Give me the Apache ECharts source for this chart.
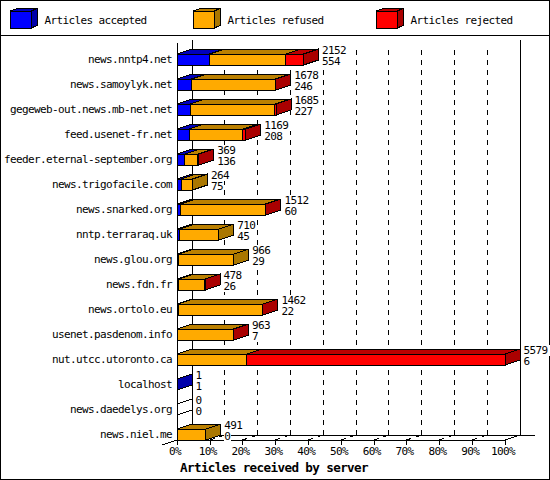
<!DOCTYPE html>
<html>
<head>
<meta charset="utf-8">
<style>
html,body{margin:0;padding:0;background:#fff}
#c{width:550px;height:480px}
svg *{shape-rendering:crispEdges}
svg text{letter-spacing:-0.62px}
</style>
<script src="https://cdn.jsdelivr.net/npm/echarts@6/dist/echarts.min.js"></script>
</head>
<body>
<div id="c"></div>
<script>
const categories = ['news.nntp4.net','news.samoylyk.net','gegeweb-out.news.mb-net.net','feed.usenet-fr.net','feeder.eternal-september.org','news.trigofacile.com','news.snarked.org','nntp.terraraq.uk','news.glou.org','news.fdn.fr','news.ortolo.eu','usenet.pasdenom.info','nut.utcc.utoronto.ca','localhost','news.daedelys.org','news.niel.me'];
const totals   = [2152,1678,1685,1169,369,264,1512,710,966,478,1462,963,5579,1,0,491];
const accepted = [554,246,227,208,136,75,60,45,29,26,22,7,6,1,0,0];
const refused  = [1298,1422,1438,911,218,189,1447,665,937,447,1435,951,1180,0,0,491];
const rejected = [300,10,20,50,15,0,5,0,0,5,5,5,4393,0,0,0];
const seriesNames = ['Articles accepted','Articles refused','Articles rejected'];
const tickValues = [0,10,20,30,40,50,60,70,80,90,100];
const axisTitle = 'Articles received by server';
const maxTotal = 5579;

const FAMILY = 'DejaVu Sans Mono';
const FONT = '11px "DejaVu Sans Mono"';
const DX = 15, DY = 5, HALF = 5.5;
const front = ['#0000ff','#ffaa00','#ff0000'];
const top3d = ['#0000bb','#bb8000','#bb0000'];
const side  = ['#0000aa','#aa7700','#aa0000'];
const line = {stroke:'#000',lineWidth:1,fill:'none'};
const dashed = {stroke:'#000',lineWidth:1,lineDash:[5,5],fill:'none'};

function poly(points, fill){
  return {type:'polygon',shape:{points},style:{fill,stroke:'#000',lineWidth:1}};
}
function seg(x1,y1,x2,y2,style){
  return {type:'line',shape:{x1,y1,x2,y2},style};
}
function renderWall(params, api){
  const v = api.value(0);
  const bottom = api.coord([v, categories[categories.length-1]]);
  const first = api.coord([v, categories[0]]);
  const fy = bottom[1]+HALF, by = fy-DY, x = bottom[0], bx = x+DX;
  const topY = first[1]-19.5;
  const ch = [];
  if(v===0){
    ch.push(seg(x,topY+3,x,fy,line));
    ch.push(seg(bx,topY,bx,by,line));
    ch.push(seg(x-DX,fy+DY,bx,by,line));
    ch.push(seg(bx,by,535,by,line));
  } else if(v===100){
    ch.push(seg(bx,topY,bx,by,line));
    ch.push(seg(x,fy,bx,by,line));
  } else {
    ch.push(seg(bx,topY+10,bx,by,dashed));
    ch.push(seg(x,fy,bx,by,dashed));
  }
  return {type:'group',children:ch};
}
function renderBar(params, api){
  const i = params.dataIndex;
  const vals = [api.value(1),api.value(2),api.value(3)];
  const base = api.coord([0,categories[i]]);
  const yc = base[1], yt = yc-HALF, yb = yc+HALF;
  let x = base[0], cum = 0, last = -1;
  const ch = [];
  const fronts = [], tops = [];
  vals.forEach((v,k)=>{
    if(v<=0) return;
    cum += v;
    const x1 = api.coord([cum/maxTotal*100,categories[i]])[0];
    tops.push(poly([[x,yt],[x1,yt],[x1+DX,yt-DY],[x+DX,yt-DY]],top3d[k]));
    fronts.push(poly([[x,yt],[x1,yt],[x1,yb],[x,yb]],front[k]));
    x = x1; last = k;
  });
  const sideFill = last>=0 ? side[last] : '#fff';
  ch.push(...tops);
  ch.push(poly([[x,yt],[x+DX,yt-DY],[x+DX,yb-DY],[x,yb]],sideFill));
  ch.push(...fronts);
  const lx = x+DX+3.5;
  [[totals[i],-9.5],[accepted[i],1.5]].forEach(([t,o])=>{
    ch.push({type:'text',z2:5,style:{text:String(t),x:lx,y:yc+o,font:FONT,lineHeight:11,fill:'#000',align:'left',verticalAlign:'middle',backgroundColor:'#fff'}});
  });
  return {type:'group',children:ch};
}

const legendX = [10.5,193.5,376.5];
const graphic = [
  {type:'rect',silent:true,shape:{x:0.5,y:0.5,width:549,height:479},style:{fill:'none',stroke:'#000',lineWidth:1}},
  {type:'line',silent:true,shape:{x1:0,y1:35.5,x2:550,y2:35.5},style:{stroke:'#000',lineWidth:1}}
];
seriesNames.forEach((name,k)=>{
  const x=legendX[k], w=20.5, t=11, b=28, dx=6.5, dy=2.5;
  graphic.push(
    {type:'polygon',silent:true,shape:{points:[[x,t],[x+w,t],[x+w+dx,t-dy],[x+dx,t-dy]]},style:{fill:top3d[k],stroke:'#000',lineWidth:1}},
    {type:'polygon',silent:true,shape:{points:[[x+w,t],[x+w+dx,t-dy],[x+w+dx,b-dy],[x+w,b]]},style:{fill:side[k],stroke:'#000',lineWidth:1}},
    {type:'rect',silent:true,shape:{x,y:t,width:w,height:b-t},style:{fill:front[k],stroke:'#000',lineWidth:1}},
    {type:'text',silent:true,style:{text:name,x:x+34,y:20,font:FONT,fill:'#000',align:'left',verticalAlign:'middle'}}
  );
});

const chart = echarts.init(document.getElementById('c'),null,{renderer:'svg'});
chart.setOption({
  animation:false,
  backgroundColor:'#fff',
  title:{text:axisTitle,left:180,top:461,padding:0,textStyle:{fontFamily:FAMILY,fontWeight:'bold',fontSize:12.6,color:'#000',lineHeight:13}},
  grid:{left:177,width:328,top:47,height:400,outerBoundsMode:'none'},
  xAxis:{type:'value',min:0,max:100,interval:10,offset:-7,
    axisLine:{show:true,onZero:false,lineStyle:{color:'#000',width:1}},
    axisTick:{show:true,length:5,lineStyle:{color:'#000',width:1}},
    axisLabel:{formatter:'{value}%',fontFamily:FAMILY,fontSize:11,color:'#000',margin:6,padding:[0,4,0,0],showMinLabel:true,showMaxLabel:true},
    splitLine:{show:false}},
  yAxis:{type:'category',data:categories,inverse:true,
    axisLine:{show:false},axisTick:{show:false},
    axisLabel:{interval:0,fontFamily:FAMILY,fontSize:11,color:'#000',margin:5},
    splitLine:{show:false}},
  graphic,
  series:[
    {type:'custom',name:'walls',z:1,silent:true,clip:false,renderItem:renderWall,data:tickValues.map(v=>[v])},
    {type:'custom',name:'bars',z:2,silent:true,clip:false,renderItem:renderBar,
      data:categories.map((c,i)=>[i,accepted[i],refused[i],rejected[i]]),encode:{y:0,x:1}}
  ]
});
</script>
</body>
</html>
